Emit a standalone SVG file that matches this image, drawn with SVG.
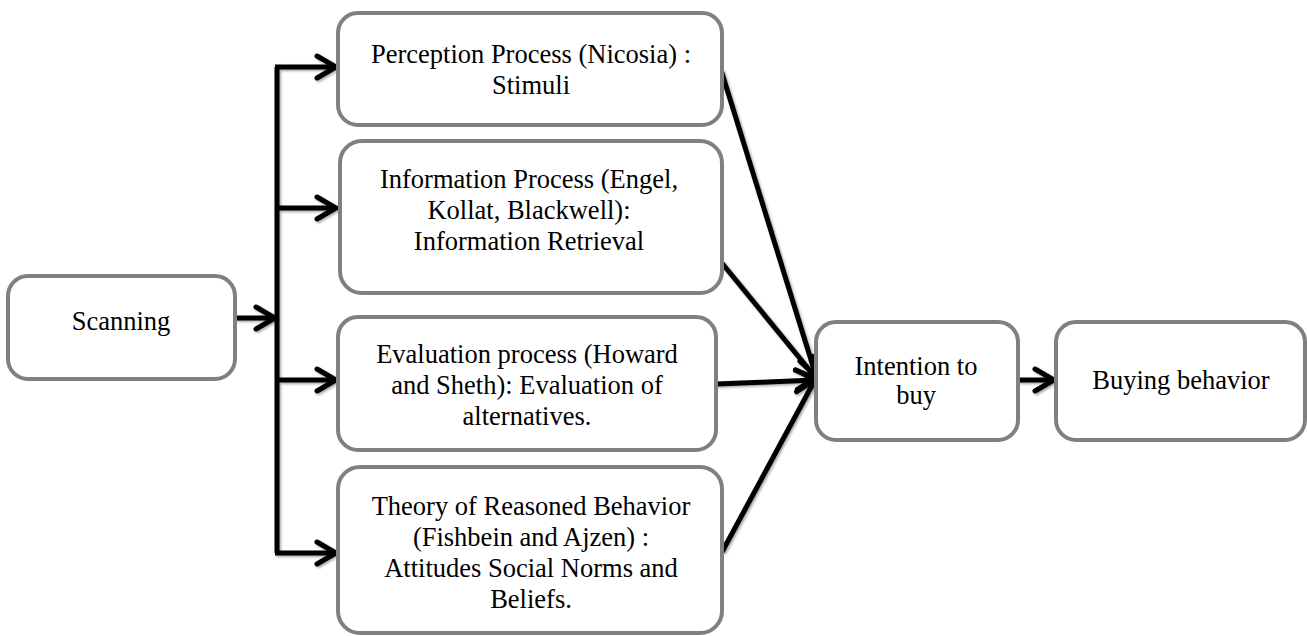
<svg xmlns="http://www.w3.org/2000/svg" width="1307" height="636" viewBox="0 0 1307 636">
  <style>
    .box { fill: #ffffff; stroke: #808080; stroke-width: 4; }
    .label { font-family: "Liberation Serif", "Times New Roman", serif; font-size: 26.5px; fill: #000000; text-anchor: middle; }
    .wire { fill: none; stroke: #000000; stroke-width: 5; stroke-linejoin: miter; }
    .arrow { fill: none; stroke: #000000; stroke-width: 5; marker-end: url(#chevron); }
  </style>
  <defs>
    <marker id="chevron" markerUnits="userSpaceOnUse" viewBox="-24 -14 28 28" refX="0" refY="0" markerWidth="28" markerHeight="28" orient="auto">
      <path d="M-19,-11 L0,0 L-19,11" fill="none" stroke="#000000" stroke-width="5" stroke-linecap="round" stroke-linejoin="miter"/>
    </marker>
    <filter id="soft-shadow" x="-10%" y="-10%" width="120%" height="120%">
      <feDropShadow dx="1.5" dy="1.5" stdDeviation="1" flood-color="#000000" flood-opacity="0.35"/>
    </filter>
  </defs>

  <rect width="1307" height="636" fill="#ffffff"/>

  <!-- connectors -->
  <g id="connectors" filter="url(#soft-shadow)">
    <path class="arrow" d="M235,318 L275,318"/>
    <path class="wire" d="M277,67 L277,553"/>
    <path class="arrow" d="M275,67 L336,67"/>
    <path class="arrow" d="M275,208 L336,208"/>
    <path class="arrow" d="M275,380 L336,380"/>
    <path class="arrow" d="M275,553 L336,553"/>
    <path class="arrow" d="M721,70 L816,376"/>
    <path class="arrow" d="M721,262 L816,378"/>
    <path class="arrow" d="M716,384 L815,380"/>
    <path class="arrow" d="M722,552 L816,378"/>
    <path class="arrow" d="M1018,380 L1054,380"/>
  </g>

  <g id="scanning">
    <rect class="box" x="8" y="276" width="227" height="103" rx="20"/>
    <text class="label" x="121" y="330">Scanning</text>
  </g>

  <g id="perception">
    <rect class="box" x="338" y="13" width="384" height="112" rx="20"/>
    <text class="label" x="531" y="63">Perception Process (Nicosia) :</text>
    <text class="label" x="531" y="94">Stimuli</text>
  </g>

  <g id="information">
    <rect class="box" x="340" y="141" width="382" height="152" rx="22"/>
    <text class="label" x="529" y="188">Information Process (Engel,</text>
    <text class="label" x="529" y="219">Kollat, Blackwell):</text>
    <text class="label" x="529" y="250">Information Retrieval</text>
  </g>

  <g id="evaluation">
    <rect class="box" x="338" y="317" width="378" height="133" rx="20"/>
    <text class="label" x="527" y="363">Evaluation process (Howard</text>
    <text class="label" x="527" y="394">and Sheth): Evaluation of</text>
    <text class="label" x="527" y="425">alternatives.</text>
  </g>

  <g id="theory">
    <rect class="box" x="338" y="467" width="384" height="166" rx="22"/>
    <text class="label" x="531" y="515">Theory of Reasoned Behavior</text>
    <text class="label" x="531" y="546">(Fishbein and Ajzen) :</text>
    <text class="label" x="531" y="577">Attitudes Social Norms and</text>
    <text class="label" x="531" y="608">Beliefs.</text>
  </g>

  <g id="intention">
    <rect class="box" x="816" y="322" width="202" height="118" rx="20"/>
    <text class="label" x="916" y="375">Intention to</text>
    <text class="label" x="916" y="404">buy</text>
  </g>

  <g id="buying">
    <rect class="box" x="1056" y="322" width="249" height="118" rx="20"/>
    <text class="label" x="1181" y="389">Buying behavior</text>
  </g>
</svg>
